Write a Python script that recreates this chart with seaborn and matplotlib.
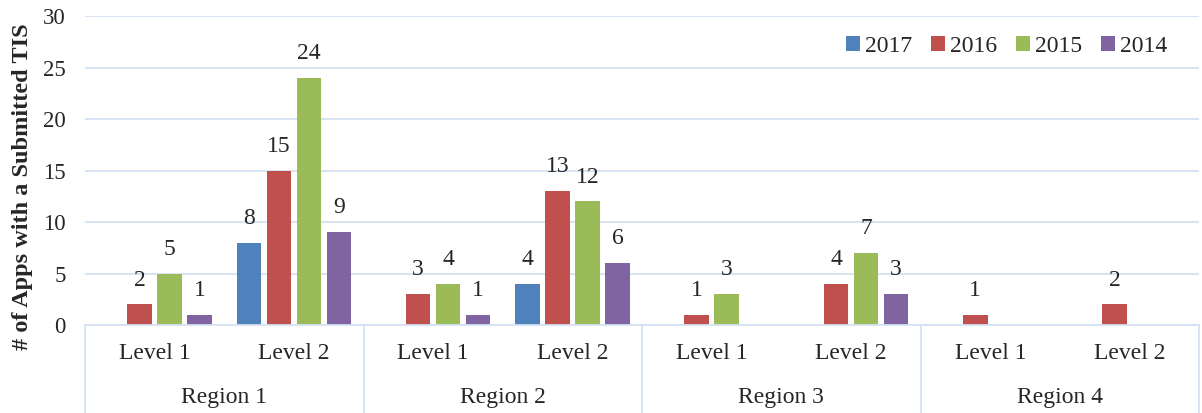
import matplotlib
matplotlib.use("Agg")
import matplotlib.pyplot as plt
import matplotlib.transforms as mtransforms
from matplotlib.patches import Patch
import seaborn as sns
import pandas as pd

regions = ["Region 1", "Region 2", "Region 3", "Region 4"]
levels = ["Level 1", "Level 2"]
years = ["2017", "2016", "2015", "2014"]

# counts per (region, level) category, one list per year
apps_2017 = [0, 8, 0, 4, 0, 0, 0, 0]
apps_2016 = [2, 15, 3, 13, 1, 4, 1, 2]
apps_2015 = [5, 24, 4, 12, 3, 7, 0, 0]
apps_2014 = [1, 9, 1, 6, 0, 3, 0, 0]

colors = ["#4F81BD", "#C0504D", "#9BBB59", "#8064A2"]
grid_color = "#D6E2F2"

categories = [f"{r}|{l}" for r in regions for l in levels]
series = {"2017": apps_2017, "2016": apps_2016, "2015": apps_2015, "2014": apps_2014}
rows = []
for yr in years:
    for cat, v in zip(categories, series[yr]):
        rows.append({"category": cat, "year": yr, "apps": v})
df = pd.DataFrame(rows)

sns.set_theme(style="white")
plt.rcParams["font.family"] = ["Liberation Serif", "DejaVu Serif"]

fig = plt.figure(figsize=(12.02, 4.13), dpi=100)
ax = fig.add_axes([0.0707, 0.213, 0.927, 0.748])

sns.barplot(data=df, x="category", y="apps", hue="year", hue_order=years,
            order=categories, palette=colors, width=0.86, gap=0.18,
            saturation=1, legend=False, ax=ax, errorbar=None, linewidth=0)

for container, yr in zip(ax.containers, years):
    labels = [str(v) if v > 0 else "" for v in series[yr]]
    ax.bar_label(container, labels=labels, padding=10, fontsize=17)

ax.set_ylim(0, 30)
ax.set_xlim(-0.5, len(categories) - 0.5)
ax.set_yticks(range(0, 31, 5))
ax.tick_params(axis="y", labelsize=16.5, length=0, pad=14)
ax.yaxis.grid(True, color=grid_color, linewidth=1.3)
ax.set_axisbelow(True)

ax.set_xticks(range(len(categories)))
ax.set_xticklabels([c.split("|")[1] for c in categories], fontsize=17)
ax.tick_params(axis="x", length=0, pad=13)
ax.set_xlabel("")
ax.set_ylabel("# of Apps with a Submitted TIS", fontsize=17.5, fontweight="bold")
ax.yaxis.set_label_coords(-0.047, 0.448)

for side in ["top", "right", "left"]:
    ax.spines[side].set_visible(False)
ax.spines["bottom"].set_color(grid_color)
ax.spines["bottom"].set_linewidth(1.3)

# region separators and region names below the level labels
trans = mtransforms.blended_transform_factory(ax.transData, ax.transAxes)
for i in range(len(regions) + 1):
    xpos = -0.5 + 2 * i
    ax.plot([xpos, xpos], [0, -0.3], transform=trans, color=grid_color,
            linewidth=1.3, clip_on=False)
for i, r in enumerate(regions):
    ax.text(2 * i + 0.5, -0.236, r, transform=trans, ha="center", va="center",
            fontsize=17)

handles = [Patch(facecolor=c, edgecolor="none") for c in colors]
ax.legend(handles, years, loc="upper right", bbox_to_anchor=(0.99, 1.005),
          ncol=4, frameon=False, fontsize=17, handlelength=0.6,
          handleheight=0.6, handletextpad=0.2, columnspacing=0.8)

fig.savefig("out.png", dpi=100)
